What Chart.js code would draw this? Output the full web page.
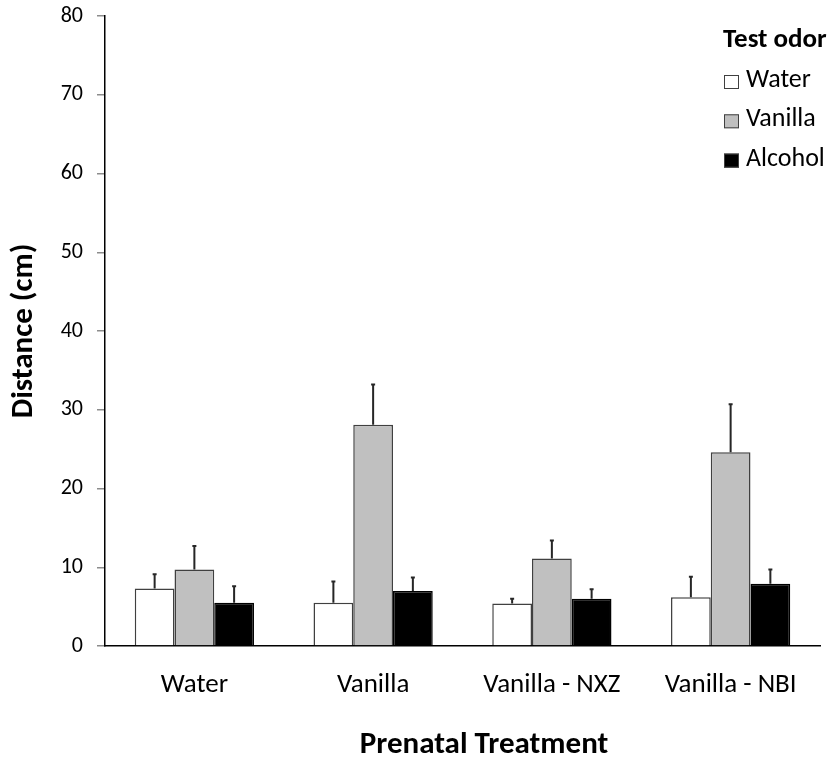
<!DOCTYPE html>
<html lang="en">
<head>
  <meta charset="UTF-8">
  <title>Distance by prenatal treatment</title>
  <script src="https://cdn.jsdelivr.net/npm/chart.js"></script>
  <style>
    body {
      margin: 0;
      background: #fff;
    }
    .chart-box {
      width: 834px;
      height: 760px;
    }
  </style>
</head>
<body>
  <div class="chart-box">
    <canvas id="odorChart"></canvas>
  </div>

  <script>
    // Data (means and upper error bars, cm)
    const categories = ['Water', 'Vanilla', 'Vanilla - NXZ', 'Vanilla - NBI'];
    const seriesNames = ['Water', 'Vanilla', 'Alcohol'];
    const waterMeans = [7.3, 5.5, 5.4, 6.2];
    const waterErr = [1.8, 2.7, 0.6, 2.6];
    const vanillaMeans = [9.7, 28.1, 11.1, 24.6];
    const vanillaErr = [3.0, 5.1, 2.3, 6.1];
    const alcoholMeans = [5.5, 7.0, 6.0, 7.9];
    const alcoholErr = [2.1, 1.7, 1.2, 1.8];
    const yTicks = [0, 10, 20, 30, 40, 50, 60, 70, 80];

    const fontFamily = 'Carlito, Lato, "Open Sans", sans-serif';

    // draws upward error bars on top of each bar
    const errorBars = {
      id: 'errorBars',
      afterDatasetsDraw(chart) {
        const ctx = chart.ctx;
        const y = chart.scales.y;
        ctx.save();
        ctx.strokeStyle = '#262626';
        ctx.lineWidth = 2;
        chart.data.datasets.forEach((ds, i) => {
          const meta = chart.getDatasetMeta(i);
          meta.data.forEach((bar, j) => {
            const top = y.getPixelForValue(ds.data[j] + ds.errors[j]);
            ctx.beginPath();
            ctx.moveTo(bar.x, bar.y);
            ctx.lineTo(bar.x, top);
            ctx.moveTo(bar.x - 2, top);
            ctx.lineTo(bar.x + 2, top);
            ctx.stroke();
          });
        });
        ctx.restore();
      }
    };

    // legend in the top-right corner + x axis title (sits right of centre in the original)
    const odorLegend = {
      id: 'odorLegend',
      afterDraw(chart) {
        const ctx = chart.ctx;
        const x0 = 724;
        ctx.save();
        ctx.textBaseline = 'alphabetic';
        ctx.fillStyle = '#000';
        ctx.font = 'bold 27px ' + fontFamily;
        ctx.fillText('Test odor', x0 - 1, 47);
        ctx.font = '26px ' + fontFamily;
        chart.data.datasets.forEach((ds, i) => {
          const top = 75 + i * 39.3;
          ctx.fillStyle = ds.backgroundColor;
          ctx.fillRect(x0, top, 15, 14);
          ctx.strokeStyle = '#404040';
          ctx.lineWidth = 1;
          ctx.strokeRect(x0 + 0.5, top + 0.5, 14, 13);
          ctx.fillStyle = '#000';
          ctx.fillText(ds.label, x0 + 22, top + 12);
        });

        ctx.font = 'bold 31px ' + fontFamily;
        ctx.textAlign = 'center';
        ctx.fillText('Prenatal Treatment', 484, 753);
        ctx.restore();
      }
    };

    const ctx = document.getElementById('odorChart').getContext('2d');
    new Chart(ctx, {
      type: 'bar',
      data: {
        labels: categories,
        datasets: [
          {
            label: seriesNames[0],
            data: waterMeans,
            errors: waterErr,
            backgroundColor: '#ffffff',
            borderColor: '#404040',
            borderWidth: 1.5
          },
          {
            label: seriesNames[1],
            data: vanillaMeans,
            errors: vanillaErr,
            backgroundColor: '#c0c0c0',
            borderColor: '#404040',
            borderWidth: 1.5
          },
          {
            label: seriesNames[2],
            data: alcoholMeans,
            errors: alcoholErr,
            backgroundColor: '#000000',
            borderColor: '#000000',
            borderWidth: 1.5
          }
        ]
      },
      options: {
        responsive: true,
        maintainAspectRatio: false,
        animation: false,
        layout: {
          padding: { top: 16, right: 14, bottom: 0, left: 0 }
        },
        datasets: {
          bar: {
            categoryPercentage: 0.667,
            barPercentage: 1
          }
        },
        plugins: {
          legend: { display: false },
          tooltip: { enabled: false }
        },
        scales: {
          x: {
            grid: { display: false, drawTicks: false },
            border: { color: '#000', width: 1.5 },
            ticks: {
              color: '#000',
              padding: 23,
              font: { family: fontFamily, size: 27 }
            },
            afterFit(scale) {
              scale.height = 114;
            }
          },
          y: {
            min: 0,
            max: 80,
            afterBuildTicks(scale) {
              scale.ticks = yTicks.map(v => ({ value: v }));
            },
            grid: {
              drawOnChartArea: false,
              drawTicks: true,
              tickLength: 8,
              color: '#8c8c8c',
              lineWidth: 1.5
            },
            border: { color: '#000', width: 1.5 },
            ticks: {
              color: '#000',
              padding: 14,
              font: { family: fontFamily, size: 22 }
            },
            title: {
              display: true,
              text: 'Distance (cm)',
              color: '#000',
              padding: { top: 6, bottom: 0 },
              font: { family: fontFamily, size: 31, weight: 'bold' }
            },
            afterFit(scale) {
              scale.width = 105;
              scale.paddingTop = 0;
              scale.paddingBottom = 0;
            }
          }
        }
      },
      plugins: [errorBars, odorLegend]
    });
  </script>
</body>
</html>
